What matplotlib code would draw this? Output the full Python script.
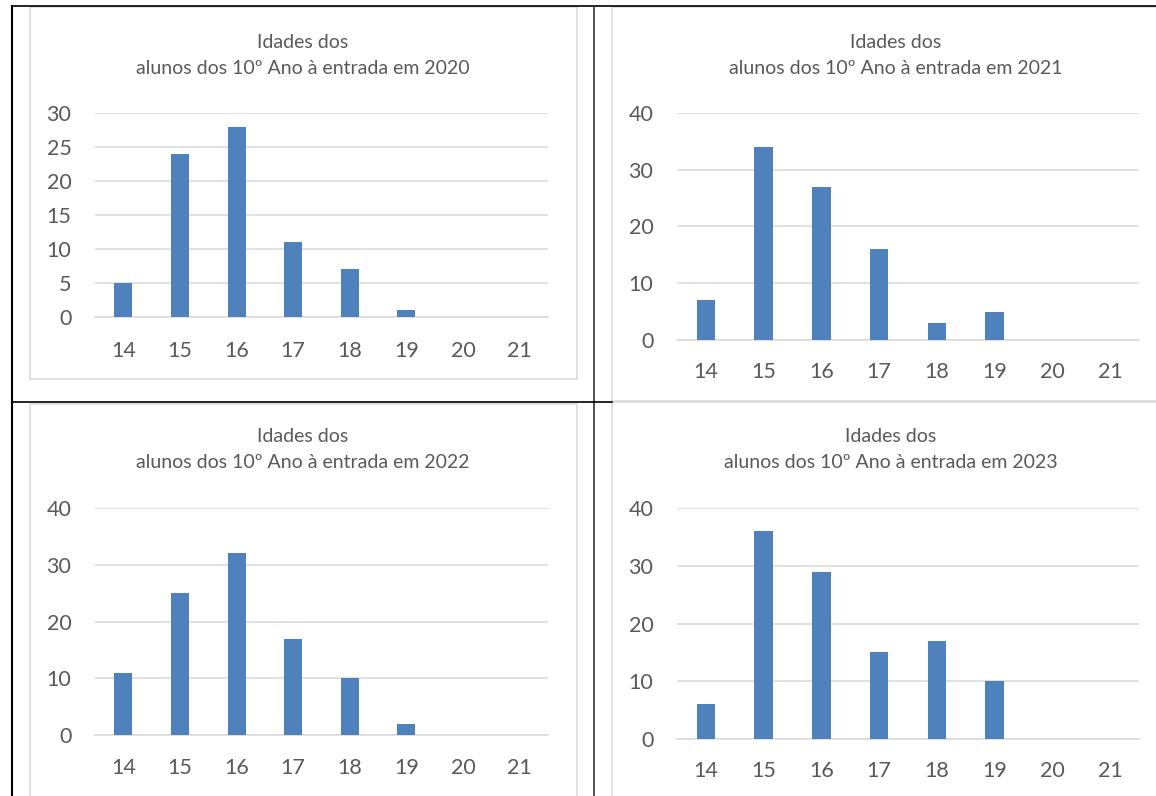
import matplotlib
matplotlib.use("Agg")
import matplotlib.pyplot as plt
from matplotlib.lines import Line2D
from matplotlib.patches import Rectangle

# ---- data ----
ages = ["14", "15", "16", "17", "18", "19", "20", "21"]
years = ["2020", "2021", "2022", "2023"]
counts_2020 = [5, 24, 28, 11, 7, 1, 0, 0]
counts_2021 = [7, 34, 27, 16, 3, 5, 0, 0]
counts_2022 = [11, 25, 32, 17, 10, 2, 0, 0]
counts_2023 = [6, 36, 29, 15, 17, 10, 0, 0]
y_ticks_2020 = [0, 5, 10, 15, 20, 25, 30]
y_ticks_other = [0, 10, 20, 30, 40]
title_line1 = "Idades dos"
title_line2 = "alunos dos 10º Ano à entrada em {}"

W, H = 1156, 796
BAR = "#4F81BD"
GRID = "#D9D9D9"
TXT = "#595959"
FONT = "Lato"

plt.rcParams["font.family"] = [FONT, "DejaVu Sans"]

fig = plt.figure(figsize=(W / 100, H / 100), dpi=100)
fig.patch.set_facecolor("white")


def fx(x):
    return x / W


def fy(y):
    return 1 - y / H


def fig_line(x0, y0, x1, y1, color, lw):
    fig.add_artist(Line2D([fx(x0), fx(x1)], [fy(y0), fy(y1)], color=color,
                          lw=lw, transform=fig.transFigure, zorder=5))


def fig_rect(x0, y0, x1, y1):
    fig.add_artist(Rectangle((fx(x0), fy(y1)), fx(x1) - fx(x0), fy(y0) - fy(y1),
                             transform=fig.transFigure, facecolor="white",
                             edgecolor=GRID, lw=1.1, zorder=0))


# chart frames (light grey)
fig_rect(30, 7, 577, 379)
fig_rect(612, 7, 1165, 401)
fig_rect(30, 404, 577, 805)
fig_rect(612, 402, 1165, 805)

# table lines
fig_line(12, 6, 1156, 6, "black", 1.2)
fig_line(12, 6, 12, 796, "black", 1.5)
fig_line(594, 6, 594, 796, "#333333", 1.2)
fig_line(12, 402, 612, 402, "black", 1.2)

charts = [
    # counts, yticks, ymax, axes px (left, right, top, bottom), title centre x, title y1, y2, x pad
    (counts_2020, y_ticks_2020, 30, (95, 548, 113, 317), 303, 42, 69, years[0], 17),
    (counts_2021, y_ticks_other, 40, (677, 1139, 113, 340), 896, 42, 69, years[1], 15.5),
    (counts_2022, y_ticks_other, 40, (95, 548, 508, 735), 303, 437, 463, years[2], 16.5),
    (counts_2023, y_ticks_other, 40, (677, 1139, 508, 739), 891, 437, 463, years[3], 15.5),
]

for counts, yt, ymax, (l, r, t, b), tx, ty1, ty2, yr, xpad in charts:
    ax = fig.add_axes([fx(l), fy(b), fx(r) - fx(l), fy(t) - fy(b)])
    ax.set_facecolor("none")
    xs = range(len(ages))
    ax.bar(xs, counts, width=0.32, color=BAR, zorder=3)
    ax.set_xlim(-0.5, len(ages) - 0.5)
    ax.set_ylim(0, ymax)
    ax.set_yticks(yt)
    ax.set_xticks(list(xs))
    ax.set_xticklabels(ages)
    ax.yaxis.grid(True, color=GRID, lw=1.1, zorder=0)
    ax.set_axisbelow(True)
    for s in ax.spines.values():
        s.set_visible(False)
    ax.tick_params(axis="both", length=0, labelsize=15.5, labelcolor=TXT)
    ax.tick_params(axis="y", pad=17)
    ax.tick_params(axis="x", pad=xpad)
    ax.axhline(0, color=GRID, lw=1.1, zorder=1, clip_on=False)
    fig.text(fx(tx), fy(ty1), title_line1, ha="center", va="center",
             fontsize=14, color=TXT)
    fig.text(fx(tx), fy(ty2), title_line2.format(yr), ha="center", va="center",
             fontsize=14, color=TXT)

fig.savefig("out.png", dpi=100, facecolor="white")
